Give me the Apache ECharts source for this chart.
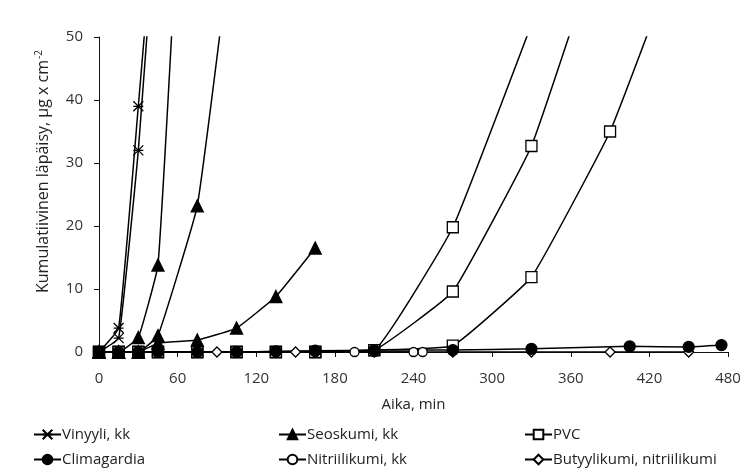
<!DOCTYPE html>
<html>
<head>
<meta charset="utf-8">
<title>Kumulatiivinen läpäisy</title>
<script src="https://cdn.jsdelivr.net/npm/echarts@6/dist/echarts.min.js"></script>
<style>
  html, body { margin: 0; padding: 0; background: #fff; }
  #main { width: 756px; height: 473px; }
</style>
</head>
<body>
<div id="main"></div>
<script>
// aika (min) ja kumulatiivinen läpäisy (µg/cm2), rinnakkaiset mittaukset omina sarjoinaan
var vinT = [0, 15, 30, 45];
var vinA = [0, 3.8, 39, 76];
var vinB = [0, 2.2, 32, 74];

var seoTA = [0, 15, 30, 45, 60];
var seoA  = [0, 0, 2.3, 13.8, 68];
var seoTB = [0, 15, 30, 45, 75, 105];
var seoB  = [0, 0, 0, 2.6, 23.2, 72];
var seoTC = [0, 15, 30, 45, 75, 105, 135, 165];
var seoC  = [0, 0, 0, 1.4, 1.9, 3.8, 8.8, 16.5];

var pvcTA = [0, 15, 30, 45, 75, 105, 135, 165, 210, 270, 330];
var pvcA  = [0, 0, 0, 0, 0, 0, 0, 0, 0.3, 19.8, 52];
var pvcTB = [0, 15, 30, 45, 75, 105, 135, 165, 210, 270, 330, 390];
var pvcB  = [0, 0, 0, 0, 0, 0, 0, 0, 0.3, 9.6, 32.7, 70];
var pvcTC = [0, 15, 30, 45, 75, 105, 135, 165, 210, 270, 330, 390, 450];
var pvcC  = [0, 0, 0, 0, 0, 0, 0, 0, 0.3, 1.0, 11.9, 35, 68];

var climT = [0, 15, 30, 45, 75, 105, 135, 165, 210, 270, 330, 405, 450, 475];
var clim  = [0, 0, 0, 0, 0, 0, 0.1, 0.2, 0.3, 0.3, 0.5, 0.9, 0.8, 1.1];

var nitT = [0, 15, 30, 45, 75, 105, 135, 165, 195, 210, 240, 247];
var nit  = [0, 0, 0, 0, 0, 0, 0, 0, 0, 0, 0, 0];

var butT = [0, 15, 30, 45, 90, 150, 210, 270, 330, 390, 450];
var but  = [0, 0, 0, 0, 0, 0, 0, 0, 0, 0, 0];

var xTicks = [0, 60, 120, 180, 240, 300, 360, 420, 480];
var yTicks = [0, 10, 20, 30, 40, 50];

var names = ['Vinyyli, kk', 'Seoskumi, kk', 'PVC', 'Climagardia', 'Nitriilikumi, kk', 'Butyylikumi, nitriilikumi'];

function pairs(t, v) {
  var out = [];
  for (var i = 0; i < t.length; i++) out.push([t[i], v[i]]);
  return out;
}

var crossPath = 'path://M0,0L10,10M10,0L0,10M0,5L10,5';

// merkkien tyylit
var marks = {
  'Vinyyli, kk': { symbol: crossPath, size: 10, fill: '#000' },
  'Seoskumi, kk': { symbol: 'triangle', size: 12, fill: '#000' },
  'PVC': { symbol: 'rect', size: 11, fill: '#fff' },
  'Climagardia': { symbol: 'circle', size: 11, fill: '#000' },
  'Nitriilikumi, kk': { symbol: 'circle', size: 9, fill: '#fff' },
  'Butyylikumi, nitriilikumi': { symbol: 'diamond', size: 10, fill: '#fff' }
};

function line(name, t, v) {
  var m = marks[name];
  return {
    name: name,
    type: 'line',
    data: pairs(t, v),
    smooth: 0.1,
    symbol: m.symbol,
    symbolSize: m.size,
    showAllSymbol: true,
    clip: true,
    lineStyle: { color: '#000', width: 1.5 },
    itemStyle: { color: m.fill, borderColor: '#000', borderWidth: 1.3 },
    emphasis: { disabled: true },
    animation: false
  };
}

var series = [
  line('PVC', pvcTA, pvcA),
  line('PVC', pvcTB, pvcB),
  line('PVC', pvcTC, pvcC),
  line('Butyylikumi, nitriilikumi', butT, but),
  line('Nitriilikumi, kk', nitT, nit),
  line('Climagardia', climT, clim),
  line('Seoskumi, kk', seoTA, seoA),
  line('Seoskumi, kk', seoTB, seoB),
  line('Seoskumi, kk', seoTC, seoC),
  line('Vinyyli, kk', vinT, vinA),
  line('Vinyyli, kk', vinT, vinB)
];

var font = 'Open Sans';
var legendBase = {
  orient: 'vertical',
  top: 422,
  itemWidth: 27,
  itemHeight: 12,
  itemGap: 10,
  textStyle: { fontFamily: font, fontSize: 15, color: '#222', padding: [0, 0, 0, -4] },
  selectedMode: false
};

var myChart = echarts.init(document.getElementById('main'));
var option = {
  backgroundColor: '#fff',
  animation: false,
  grid: { left: 99, right: 28, top: 37, bottom: 121, containLabel: false },
  legend: [
    Object.assign({}, legendBase, { left: 28, data: [names[0], names[3]] }),
    Object.assign({}, legendBase, { left: 273, data: [names[1], names[4]] }),
    Object.assign({}, legendBase, { left: 519, data: [names[2], names[5]] })
  ],
  xAxis: {
    type: 'value',
    min: xTicks[0],
    max: xTicks[xTicks.length - 1],
    interval: 60,
    name: 'Aika, min',
    nameLocation: 'middle',
    nameGap: 45,
    nameTextStyle: { fontFamily: font, fontSize: 15, color: '#222' },
    axisLine: { lineStyle: { color: '#111', width: 1 } },
    axisTick: { show: true, inside: false, length: 5, lineStyle: { color: '#111' } },
    axisLabel: { fontFamily: font, fontSize: 15, color: '#333', margin: 19 },
    splitLine: { show: false }
  },
  yAxis: {
    type: 'value',
    min: yTicks[0],
    max: yTicks[yTicks.length - 1],
    interval: 10,
    name: '{main|Kumulatiivinen läpäisy, µg x cm}{sup|-2}',
    nameLocation: 'middle',
    nameGap: 46,
    nameTextStyle: {
      fontFamily: font, fontSize: 16, color: '#222',
      padding: [0, 0, 0, 46],
      rich: {
        main: { fontFamily: font, fontSize: 16, color: '#222' },
        sup: { fontFamily: font, fontSize: 10, color: '#222', verticalAlign: 'top', padding: [0, 0, 9, 1] }
      }
    },
    axisLine: { show: true, lineStyle: { color: '#111', width: 1 } },
    axisTick: { show: true, inside: false, length: 5, lineStyle: { color: '#111' } },
    axisLabel: { fontFamily: font, fontSize: 15, color: '#333', margin: 16 },
    splitLine: { show: false }
  },
  series: series
};
myChart.setOption(option);
</script>
</body>
</html>
